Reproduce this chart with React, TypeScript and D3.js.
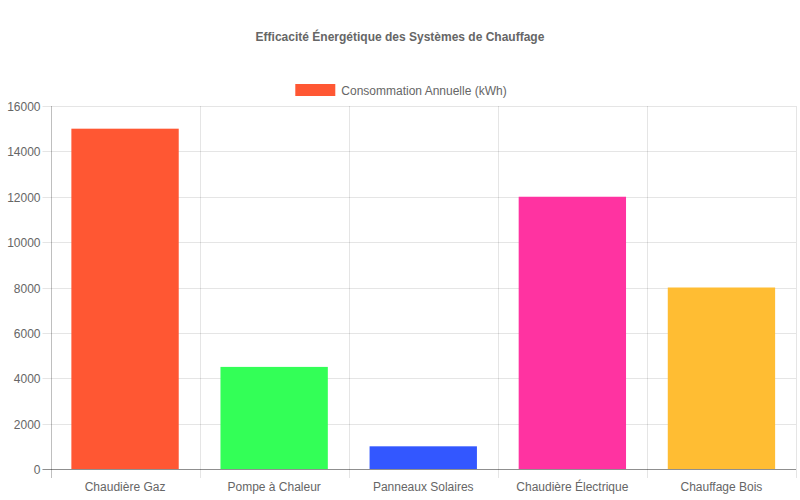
import React, { useEffect, useRef } from 'react';
import * as d3 from 'd3';

// Chart data
const categories = ['Chaudière Gaz', 'Pompe à Chaleur', 'Panneaux Solaires', 'Chaudière Électrique', 'Chauffage Bois'];
const consumption = [15000, 4500, 1000, 12000, 8000];
const barColors = ['#FF5733', '#33FF57', '#3357FF', '#FF33A1', '#FFBD33'];
const yTicks = [0, 2000, 4000, 6000, 8000, 10000, 12000, 14000, 16000];
const seriesLabel = 'Consommation Annuelle (kWh)';
const chartTitle = 'Efficacité Énergétique des Systèmes de Chauffage';

const W = 800;
const H = 500;
const FONT = "'Liberation Sans', Arial, Helvetica, sans-serif";

export default function App() {
    const svgRef = useRef<SVGSVGElement>(null);

    useEffect(() => {
        if (!svgRef.current) return;
        const svg = d3.select(svgRef.current);
        svg.selectAll('*').remove();

        const margin = { top: 106, right: 4, bottom: 31, left: 50.5 };
        const x0 = margin.left;
        const x1 = W - margin.right;
        const y0 = H - margin.bottom;
        const y1 = margin.top;

        const x = d3.scaleBand<string>().domain(categories).range([x0, x1]).paddingInner(0).paddingOuter(0);
        const y = d3.scaleLinear().domain([0, 16000]).range([y0, y1]);

        // Title
        svg.append('text')
            .attr('x', W / 2)
            .attr('y', 41)
            .attr('text-anchor', 'middle')
            .style('font-family', FONT)
            .style('font-size', '12px')
            .style('font-weight', 'bold')
            .style('fill', '#666')
            .text(chartTitle);

        // Legend
        const legend = svg.append('g');
        const legendText = legend.append('text')
            .attr('y', 94.5)
            .style('font-family', FONT)
            .style('font-size', '12px')
            .style('fill', '#666')
            .text(seriesLabel);
        const tw = (legendText.node() as SVGTextElement).getComputedTextLength();
        const total = 40 + 6 + tw;
        const lx = W / 2 - total / 2 + 1;
        legend.append('rect')
            .attr('x', lx)
            .attr('y', 84)
            .attr('width', 40)
            .attr('height', 12)
            .attr('fill', barColors[0]);
        legendText.attr('x', lx + 46);

        // Horizontal grid lines + y ticks
        const grid = svg.append('g');
        yTicks.forEach(t => {
            const yy = Math.round(y(t)) + 0.5;
            grid.append('line')
                .attr('x1', x0 - 8).attr('x2', x1)
                .attr('y1', yy).attr('y2', yy)
                .attr('stroke', t === 0 ? 'rgba(0,0,0,0.25)' : 'rgba(0,0,0,0.1)')
                .attr('stroke-width', 1);
            grid.append('text')
                .attr('x', x0 - 10)
                .attr('y', yy)
                .attr('dy', '0.35em')
                .attr('text-anchor', 'end')
                .style('font-family', FONT)
                .style('font-size', '12px')
                .style('fill', '#666')
                .text(String(t));
        });

        // Vertical grid lines
        const vLines = [x0, ...categories.map(c => (x(c) ?? 0) + x.bandwidth())];
        vLines.forEach((vx, i) => {
            const xx = Math.round(vx) + 0.5;
            grid.append('line')
                .attr('x1', xx).attr('x2', xx)
                .attr('y1', y1).attr('y2', y0 + 9)
                .attr('stroke', i === 0 ? 'rgba(0,0,0,0.25)' : 'rgba(0,0,0,0.1)')
                .attr('stroke-width', 1);
        });

        // Bars
        const barW = x.bandwidth() * 0.72;
        svg.append('g')
            .selectAll('rect')
            .data(consumption)
            .enter().append('rect')
            .attr('x', (_, i) => (x(categories[i]) ?? 0) + (x.bandwidth() - barW) / 2)
            .attr('y', d => y(d))
            .attr('width', barW)
            .attr('height', d => y(0) - y(d))
            .attr('fill', (_, i) => barColors[i]);

        // Redraw zero line above the bars
        svg.append('line')
            .attr('x1', x0 - 8).attr('x2', x1)
            .attr('y1', Math.round(y(0)) + 0.5).attr('y2', Math.round(y(0)) + 0.5)
            .attr('stroke', 'rgba(0,0,0,0.25)');

        // X labels
        svg.append('g')
            .selectAll('text')
            .data(categories)
            .enter().append('text')
            .attr('x', d => (x(d) ?? 0) + x.bandwidth() / 2)
            .attr('y', y0 + 22)
            .attr('text-anchor', 'middle')
            .style('font-family', FONT)
            .style('font-size', '12px')
            .style('fill', '#666')
            .text(d => d);
    }, []);

    return (
        <svg ref={svgRef} width={W} height={H} style={{ position: 'absolute', left: 0, top: 0, background: '#fff' }} />
    );
}
